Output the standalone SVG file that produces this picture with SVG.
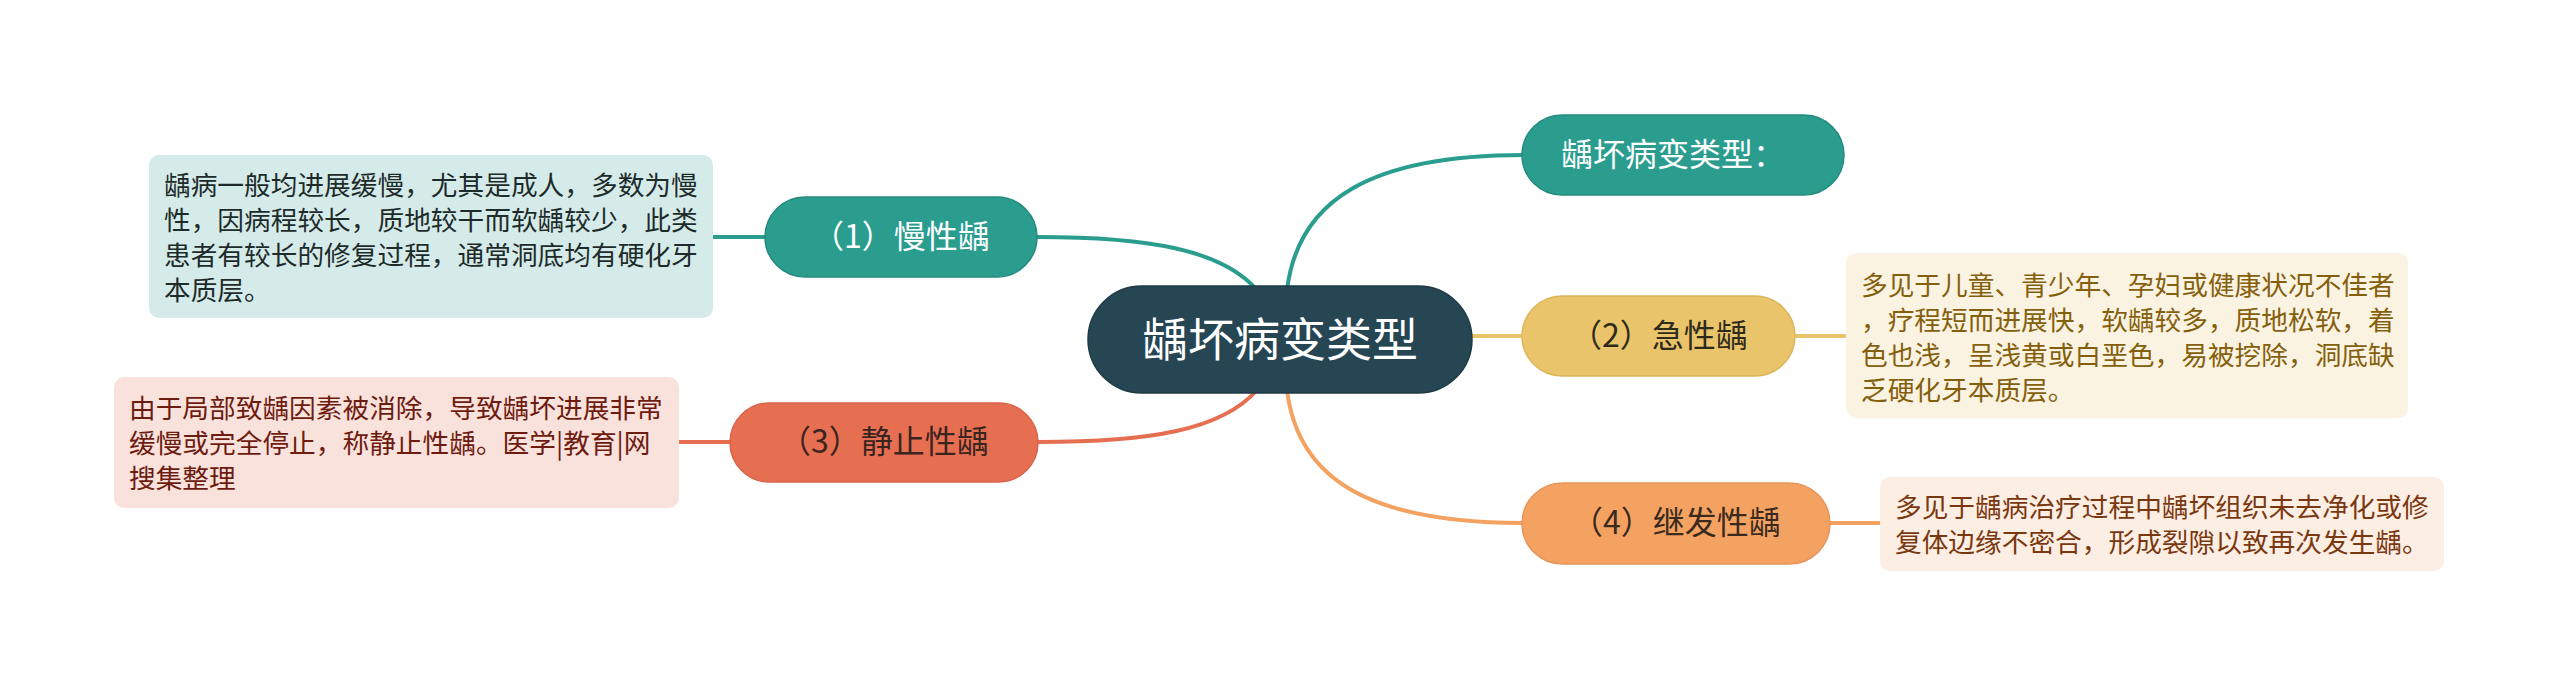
<svg xmlns="http://www.w3.org/2000/svg" width="2560" height="687" viewBox="0 0 2560 687">
<style>
text{font-family:"Noto Sans CJK SC","Noto Sans",sans-serif}
.conn{fill:none;stroke-width:4;stroke-linecap:round}
.t{stroke:#2A9D8F}.y{stroke:#E9C46A}.r{stroke:#E76F51}.o{stroke:#F4A261}
.node{font-size:32px;text-anchor:middle}
.desc{font-size:26.7px}
</style>
<rect width="2560" height="687" fill="#ffffff"/>
<g id="connectors">
<path class="conn t" d="M1287 290 C1298 200 1370 155 1524 155"/>
<path class="conn t" d="M1257 290 C1222 250 1150 237 1037 237"/>
<path class="conn t" d="M766 237 L712 237"/>
<path class="conn y" d="M1472 336 L1523 336"/>
<path class="conn y" d="M1795 336 L1847 336"/>
<path class="conn r" d="M1257 390 C1222 430 1150 442 1038 442"/>
<path class="conn r" d="M731 442 L678 442"/>
<path class="conn o" d="M1287 390 C1298 480 1370 523 1524 523"/>
<path class="conn o" d="M1829 523 L1881 523"/>
</g>
<g id="root">
<rect x="1088" y="286" width="384" height="107" rx="53.5" fill="#264653" stroke="#1f3a45" stroke-width="1.5"/>
<text x="1280" y="356" font-size="46" fill="#ffffff" text-anchor="middle">龋坏病变类型</text>
</g>
<g id="n-title">
<rect x="1522" y="115" width="322" height="80" rx="40" fill="#2A9D8F" stroke="#248a7e" stroke-width="1.5"/>
<text x="1561" y="166" font-size="32" fill="#ffffff">龋坏病变类型：</text>
</g>
<g id="n1">
<rect x="765" y="197" width="272" height="80" rx="40" fill="#2A9D8F" stroke="#248a7e" stroke-width="1.5"/>
<text class="node" x="901" y="248" fill="#ffffff">（1）慢性龋</text>
</g>
<g id="d1">
<rect x="149" y="155" width="564" height="163" rx="10" fill="#D5EBE9"/>
<text class="desc" fill="#1e2b2b"><tspan x="164" y="195">龋病一般均进展缓慢，尤其是成人，多数为慢</tspan><tspan x="164" y="230">性，因病程较长，质地较干而软龋较少，此类</tspan><tspan x="164" y="265">患者有较长的修复过程，通常洞底均有硬化牙</tspan><tspan x="164" y="300">本质层。</tspan></text>
</g>
<g id="n2">
<rect x="1522" y="296" width="273" height="80" rx="40" fill="#E9C46A" stroke="#dcb55c" stroke-width="1.5"/>
<text class="node" x="1659" y="347" fill="#2e2a1c">（2）急性龋</text>
</g>
<g id="d2">
<rect x="1846" y="253" width="562" height="165" rx="10" fill="#FBF3E2"/>
<text class="desc" fill="#85600c"><tspan x="1861" y="295">多见于儿童、青少年、孕妇或健康状况不佳者</tspan><tspan x="1861" y="330">，疗程短而进展快，软龋较多，质地松软，着</tspan><tspan x="1861" y="365">色也浅，呈浅黄或白垩色，易被挖除，洞底缺</tspan><tspan x="1861" y="400">乏硬化牙本质层。</tspan></text>
</g>
<g id="n3">
<rect x="730" y="403" width="308" height="79" rx="39.5" fill="#E76F51" stroke="#d8634a" stroke-width="1.5"/>
<text class="node" x="884" y="453" fill="#3a2420">（3）静止性龋</text>
</g>
<g id="d3">
<rect x="114" y="377" width="565" height="131" rx="10" fill="#F9E2DC"/>
<text class="desc" fill="#6e1b10"><tspan x="129" y="418">由于局部致龋因素被消除，导致龋坏进展非常</tspan><tspan x="129" y="453">缓慢或完全停止，称静止性龋。医学|教育|网</tspan><tspan x="129" y="488">搜集整理</tspan></text>
</g>
<g id="n4">
<rect x="1522" y="483" width="308" height="81" rx="40.5" fill="#F4A261" stroke="#e6955a" stroke-width="1.5"/>
<text class="node" x="1676" y="534" fill="#3a2a1e">（4）继发性龋</text>
</g>
<g id="d4">
<rect x="1880" y="477" width="564" height="94" rx="10" fill="#FDEEE3"/>
<text class="desc" fill="#7a3810"><tspan x="1895" y="517">多见于龋病治疗过程中龋坏组织未去净化或修</tspan><tspan x="1895" y="552">复体边缘不密合，形成裂隙以致再次发生龋。</tspan></text>
</g>
</svg>
